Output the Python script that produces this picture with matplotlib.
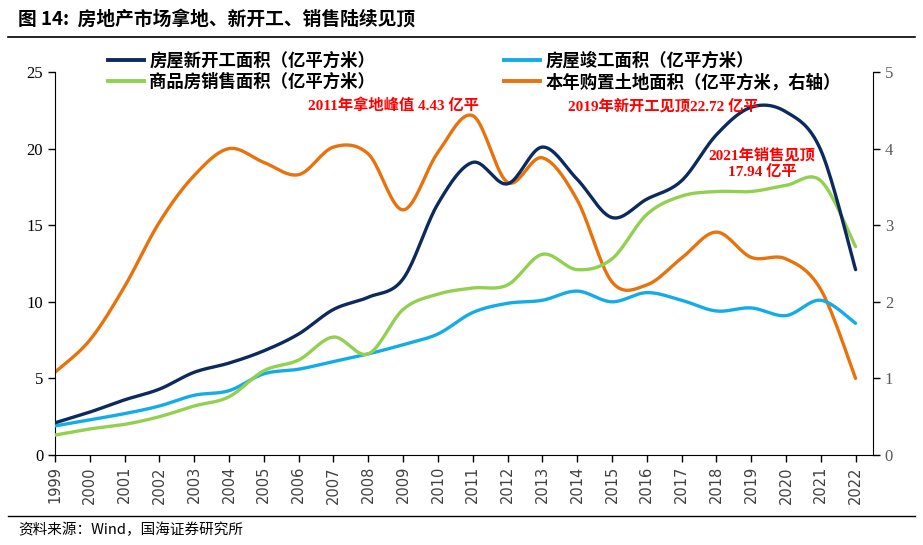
import numpy as np
import matplotlib
matplotlib.use("Agg")
import matplotlib.pyplot as plt
from matplotlib.lines import Line2D

plt.rcParams['font.family'] = ['Noto Sans CJK SC', 'DejaVu Sans']

years = list(range(1999, 2023))
new_start = [2.1, 2.8, 3.6, 4.3, 5.4, 6.0, 6.8, 7.9, 9.5, 10.3, 11.5, 16.4, 19.1, 17.7,
             20.1, 18.0, 15.5, 16.7, 17.9, 20.9, 22.7, 22.4, 19.9, 12.1]
completed = [1.9, 2.3, 2.7, 3.2, 3.9, 4.2, 5.3, 5.6, 6.1, 6.6, 7.2, 7.9, 9.3, 9.9,
             10.1, 10.7, 10.0, 10.6, 10.1, 9.4, 9.6, 9.1, 10.1, 8.6]
sales = [1.3, 1.7, 2.0, 2.5, 3.2, 3.8, 5.5, 6.2, 7.7, 6.6, 9.5, 10.5, 10.9, 11.1,
         13.1, 12.1, 12.8, 15.7, 16.9, 17.2, 17.2, 17.6, 17.9, 13.6]
land = [1.08, 1.5, 2.2, 3.04, 3.65, 4.0, 3.82, 3.66, 4.02, 3.93, 3.2, 3.95, 4.43, 3.56,
        3.88, 3.33, 2.26, 2.22, 2.57, 2.91, 2.58, 2.56, 2.16, 1.0]

labels = ['房屋新开工面积（亿平方米）', '房屋竣工面积（亿平方米）',
          '商品房销售面积（亿平方米）', '本年购置土地面积（亿平方米，右轴）']
colors = ['#0D2A5E', '#14ACE8', '#92D050', '#E8720C']


def smooth(x, y, n=20):
    x = np.asarray(x, float); y = np.asarray(y, float)
    xs, ys = [], []
    for i in range(len(x) - 1):
        p0 = (x[i - 1], y[i - 1]) if i > 0 else (x[i], y[i])
        p1 = (x[i], y[i]); p2 = (x[i + 1], y[i + 1])
        p3 = (x[i + 2], y[i + 2]) if i + 2 < len(x) else (x[i + 1], y[i + 1])
        c1 = (p1[0] + (p2[0] - p0[0]) / 6, p1[1] + (p2[1] - p0[1]) / 6)
        c2 = (p2[0] - (p3[0] - p1[0]) / 6, p2[1] - (p3[1] - p1[1]) / 6)
        t = np.linspace(0, 1, n, endpoint=(i == len(x) - 2))
        bx = (1-t)**3*p1[0] + 3*(1-t)**2*t*c1[0] + 3*(1-t)*t**2*c2[0] + t**3*p2[0]
        by = (1-t)**3*p1[1] + 3*(1-t)**2*t*c1[1] + 3*(1-t)*t**2*c2[1] + t**3*p2[1]
        xs.extend(bx); ys.extend(by)
    return np.array(xs), np.array(ys)


fig = plt.figure(figsize=(9.23, 5.45), dpi=100)
ax = fig.add_axes([55/923, 1-455/545, (873-55)/923, (455-72)/545])
ax2 = ax.twinx()

lw = 2.4
for data, c in [(completed, colors[1]), (sales, colors[2]), (new_start, colors[0])]:
    sx, sy = smooth(years, data)
    ax.plot(sx, sy, color=c, lw=lw, solid_capstyle='round', zorder=3)
sx, sy = smooth(years, land)
ax2.plot(sx, sy, color=colors[3], lw=lw, solid_capstyle='round', zorder=2)
ax.set_zorder(ax2.get_zorder() + 1)
ax.patch.set_visible(False)

ax.set_xlim(1999, 2022.5)
ax.set_ylim(0, 25)
ax2.set_ylim(0, 5)
ax.set_yticks(range(0, 26, 5))
ax2.set_yticks(range(0, 6))
ax.set_xticks(years)
ax.set_xticklabels([str(y) for y in years], rotation=90, fontsize=10.5,
                   color='#404040', family='DejaVu Sans')
for lab in ax.get_yticklabels():
    lab.set_family('Liberation Serif'); lab.set_fontsize(12)
for lab in ax2.get_yticklabels():
    lab.set_family('Liberation Serif'); lab.set_fontsize(12); lab.set_color('#595959')

for a in (ax, ax2):
    a.spines['top'].set_visible(False)
    a.tick_params(direction='out', length=5, width=1, color='black')
ax.spines['right'].set_visible(False)
ax2.spines['left'].set_visible(False)
ax2.spines['bottom'].set_visible(False)
ax.tick_params(axis='x', pad=3)

handles = [Line2D([], [], color=c, lw=2.8) for c in colors]
order = [0, 2, 1, 3]
leg = fig.legend([handles[i] for i in order], [labels[i] for i in order], ncol=2,
                 loc='upper left', bbox_to_anchor=(92/923, 1-36/545), frameon=False,
                 handlelength=2.1, handletextpad=0.3, columnspacing=7.4,
                 labelspacing=0.2, prop={'family': 'Noto Sans CJK SC', 'size': 12.5,
                                         'weight': 'bold'})

red = '#FF0000'
afont = dict(color=red, fontsize=11, fontweight='bold',
             family=['Liberation Serif', 'Noto Sans CJK SC'], ha='center', va='center')
fig.text(393/923, 1-106/545, '2011年拿地峰值 4.43 亿平', **afont)
fig.text(663/923, 1-106/545, '2019年新开工见顶22.72 亿平', **afont)
fig.text(762/923, 1-155/545, '2021年销售见顶', **afont)
fig.text(762/923, 1-172/545, '17.94 亿平', **afont)

fig.text(18/923, 1-20/545, '图 14:  房地产市场拿地、新开工、销售陆续见顶', fontsize=13.5,
         fontweight='bold', ha='left', va='center', family=['Noto Sans CJK SC', 'DejaVu Sans'])
fig.add_artist(Line2D([8/923, 915/923], [1-37/545, 1-37/545], color='black', lw=1.2))
fig.add_artist(Line2D([8/923, 915/923], [1-516/545, 1-516/545], color='black', lw=1.0))
fig.text(18/923, 1-530/545, '资料来源：Wind，国海证券研究所', fontsize=10.5, ha='left',
         va='center', family=['Noto Sans CJK SC', 'DejaVu Sans'])

fig.savefig('out.png', dpi=100)
